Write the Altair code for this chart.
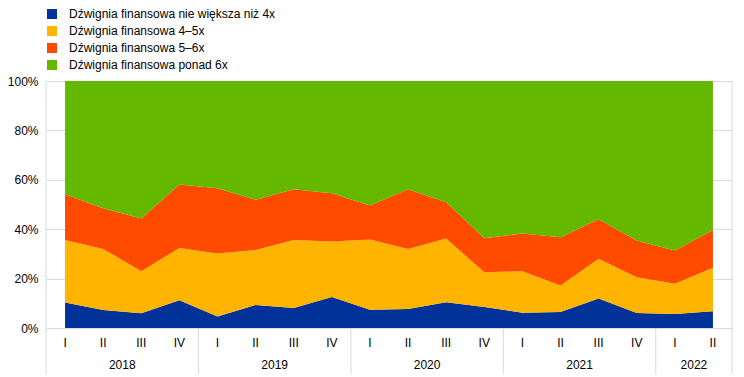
import altair as alt
import pandas as pd

quarters = ["I", "II", "III", "IV", "I", "II", "III", "IV", "I", "II", "III", "IV",
            "I", "II", "III", "IV", "I", "II"]
years = ["2018", "2019", "2020", "2021", "2022"]
year_centers = [1.5, 5.5, 9.5, 13.5, 16.5]
inner_separators = [3.5, 7.5, 11.5, 15.5]
outer_borders = [-0.5, 17.5]

series_names = [
    "Dźwignia finansowa nie większa niż 4x",
    "Dźwignia finansowa 4–5x",
    "Dźwignia finansowa 5–6x",
    "Dźwignia finansowa ponad 6x",
]
colors = ["#003299", "#FFB400", "#FF4B00", "#65B800"]

lev_le4 = [10.3, 7.3, 6.0, 11.2, 4.7, 9.3, 8.1, 12.6, 7.4, 7.7, 10.4, 8.5, 6.2, 6.5, 11.9, 6.1, 5.7, 6.8]
lev_4_5 = [25.3, 24.7, 17.0, 21.2, 25.5, 22.3, 27.5, 22.4, 28.4, 24.3, 25.8, 14.1, 16.8, 10.7, 16.1, 14.4, 12.2, 17.6]
lev_5_6 = [18.6, 16.5, 21.3, 25.7, 26.4, 20.3, 20.6, 19.6, 13.8, 24.2, 14.7, 13.7, 15.3, 19.5, 16.0, 14.9, 13.5, 15.3]
lev_gt6 = [45.8, 51.5, 55.7, 41.9, 43.4, 48.1, 43.8, 45.4, 50.4, 43.8, 49.1, 63.7, 61.7, 63.3, 56.0, 64.6, 68.6, 60.3]

W, H = 686, 247
FONT = "Liberation Sans"

rows = []
for k, (name, vals) in enumerate(zip(series_names, [lev_le4, lev_4_5, lev_5_6, lev_gt6])):
    for i, v in enumerate(vals):
        rows.append({"idx": i, "series": name, "value": v, "ord": k})
df = pd.DataFrame(rows)

qdf = pd.DataFrame({"idx": list(range(len(quarters))), "q": quarters})
ydf = pd.DataFrame({"idx": year_centers, "year": years})
inner_df = pd.DataFrame({"idx": inner_separators})
outer_df = pd.DataFrame({"idx": outer_borders})

xscale = alt.Scale(domain=[-0.5, 17.5], nice=False, zero=False)

area = alt.Chart(df).mark_area(opacity=1, interpolate="linear").encode(
    x=alt.X("idx:Q", scale=xscale, axis=None),
    y=alt.Y("value:Q", stack="zero", scale=alt.Scale(domain=[0, 100], nice=False),
            axis=alt.Axis(values=[0, 20, 40, 60, 80, 100], labelExpr="datum.value + '%'",
                          title=None, domain=False, ticks=False,
                          labelPadding=8, gridColor="#d9d9d9", gridWidth=1,
                          labelFont=FONT, labelFontSize=12, labelColor="#000000")),
    color=alt.Color("series:N", scale=alt.Scale(domain=series_names, range=colors),
                    legend=alt.Legend(title=None, orient="none", legendX=0, legendY=-73,
                                      symbolType="square", symbolSize=100,
                                      symbolStrokeWidth=0, symbolOpacity=1,
                                      labelFont=FONT, labelFontSize=12,
                                      labelColor="#000000", labelOffset=11,
                                      rowPadding=5, padding=0, labelLimit=400)),
    order=alt.Order("ord:Q"),
)

sep_inner = alt.Chart(inner_df).mark_rule(color="#d9d9d9", strokeWidth=1).encode(
    x=alt.X("idx:Q", scale=xscale, axis=None),
    y=alt.value(H),
    y2=alt.value(H + 46),
)
sep_full = alt.Chart(outer_df).mark_rule(color="#d9d9d9", strokeWidth=1).encode(
    x=alt.X("idx:Q", scale=xscale, axis=None),
    y=alt.value(0),
    y2=alt.value(H + 46),
)

qtext = alt.Chart(qdf).mark_text(font=FONT, fontSize=12, color="#000000",
                                 baseline="middle", align="center").encode(
    x=alt.X("idx:Q", scale=xscale, axis=None),
    y=alt.value(H + 15),
    text="q:N",
)
ytext = alt.Chart(ydf).mark_text(font=FONT, fontSize=12, color="#000000",
                                 baseline="middle", align="center").encode(
    x=alt.X("idx:Q", scale=xscale, axis=None),
    y=alt.value(H + 37),
    text="year:N",
)

chart = alt.layer(sep_inner, sep_full, area, qtext, ytext).properties(
    width=W, height=H,
    autosize=alt.AutoSizeParams(type="none"),
    padding={"left": 38, "top": 73, "right": 4, "bottom": 46},
).configure(font=FONT).configure_view(stroke=None)

chart.save("out.html", embed_options={"renderer": "svg", "actions": False})
